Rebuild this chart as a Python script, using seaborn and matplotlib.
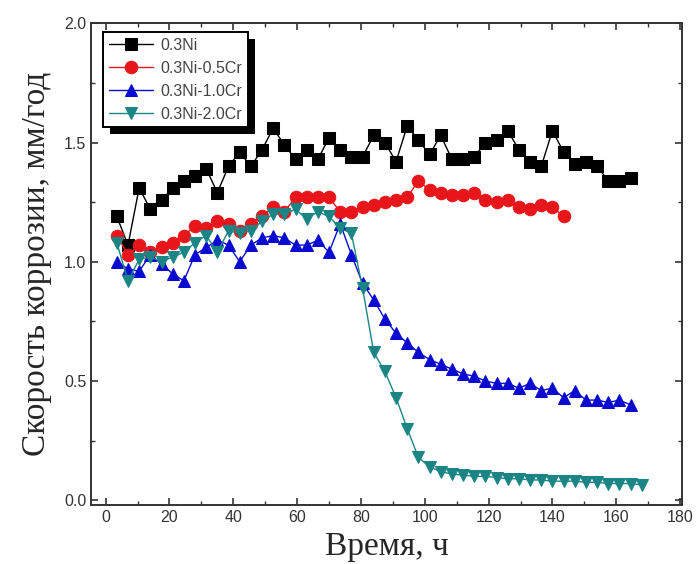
import matplotlib
matplotlib.use('Agg')
import matplotlib.pyplot as plt
from matplotlib.patches import Rectangle
from matplotlib.ticker import MultipleLocator
import numpy as np
import pandas as pd
import seaborn as sns

# time grid, h
time_h = [3.5, 7, 10.5, 14, 17.5, 21, 24.5, 28, 31.5, 35, 38.5, 42, 45.5, 49, 52.5, 56,
          59.5, 63, 66.5, 70, 73.5, 77, 80.5, 84, 87.5, 91, 94.5, 98, 101.5, 105, 108.5,
          112, 115.5, 119, 122.5, 126, 129.5, 133, 136.5, 140, 143.5, 147, 150.5, 154,
          157.5, 161, 164.5, 168]

ni = [1.19, 1.07, 1.31, 1.22, 1.26, 1.31, 1.34, 1.36, 1.39, 1.29, 1.40, 1.46, 1.40, 1.47,
      1.56, 1.49, 1.43, 1.47, 1.43, 1.52, 1.47, 1.44, 1.44, 1.53, 1.50, 1.42, 1.57, 1.51,
      1.45, 1.53, 1.43, 1.43, 1.44, 1.50, 1.51, 1.55, 1.47, 1.42, 1.40, 1.55, 1.46, 1.41,
      1.42, 1.40, 1.34, 1.34, 1.35]

cr05 = [1.11, 1.03, 1.07, 1.04, 1.06, 1.08, 1.11, 1.15, 1.14, 1.17, 1.16, 1.13, 1.16, 1.19,
        1.23, 1.21, 1.27, 1.27, 1.27, 1.27, 1.21, 1.21, 1.23, 1.24, 1.25, 1.26, 1.27, 1.34,
        1.30, 1.29, 1.28, 1.28, 1.29, 1.26, 1.25, 1.26, 1.23, 1.22, 1.24, 1.23, 1.19]

cr10 = [1.00, 0.97, 0.96, 1.03, 0.99, 0.95, 0.92, 1.03, 1.06, 1.09, 1.07, 1.00, 1.07, 1.10,
        1.11, 1.10, 1.07, 1.07, 1.09, 1.04, 1.16, 1.03, 0.91, 0.84, 0.76, 0.70, 0.66, 0.62,
        0.59, 0.57, 0.55, 0.53, 0.52, 0.50, 0.49, 0.49, 0.47, 0.49, 0.46, 0.47, 0.43, 0.46,
        0.42, 0.42, 0.41, 0.42, 0.40]

cr20 = [1.08, 0.92, 1.01, 1.02, 1.00, 1.02, 1.04, 1.08, 1.11, 1.04, 1.13, 1.12, 1.13, 1.17,
        1.20, 1.20, 1.22, 1.18, 1.21, 1.19, 1.14, 1.12, 0.89, 0.62, 0.54, 0.43, 0.30, 0.18,
        0.14, 0.12, 0.11, 0.105, 0.10, 0.10, 0.095, 0.09, 0.09, 0.085, 0.085, 0.08, 0.08,
        0.08, 0.075, 0.075, 0.07, 0.07, 0.07, 0.065]

labels = ['0.3Ni', '0.3Ni-0.5Cr', '0.3Ni-1.0Cr', '0.3Ni-2.0Cr']
series = [ni, cr05, cr10, cr20]
colors = ['black', '#e8161b', '#0a0ad0', '#1b8585']
markers = ['s', 'o', '^', 'v']
msizes = [8, 9, 9, 9]

sns.set_style('ticks')
plt.rcParams['font.family'] = ['Liberation Sans', 'DejaVu Sans']

fig = plt.figure(figsize=(6.97, 5.64), dpi=100)
ax = fig.add_axes([0.131, 0.1046, 0.847, 0.854])

for lab, vals, col, mk, ms in zip(labels, series, colors, markers, msizes):
    df = pd.DataFrame({'t': time_h[:len(vals)], 'v': vals})
    sns.lineplot(data=df, x='t', y='v', ax=ax, color=col, marker=mk, markersize=ms,
                 markeredgecolor=col, linewidth=1.0, label=lab)

ax.set_xlim(-4.5, 180.5)
ax.set_ylim(-0.02, 2.0)
ax.xaxis.set_major_locator(MultipleLocator(20))
ax.xaxis.set_minor_locator(MultipleLocator(10))
ax.yaxis.set_major_locator(MultipleLocator(0.5))
ax.yaxis.set_minor_locator(MultipleLocator(0.25))
ax.yaxis.set_major_formatter(matplotlib.ticker.FormatStrFormatter('%.1f'))
ax.tick_params(which='both', direction='in', top=True, right=True, color='#333333')
ax.tick_params(which='major', length=5, width=1.2, labelsize=11.5, labelcolor='#333333')
ax.tick_params(which='minor', length=3, width=1.0)
for sp in ax.spines.values():
    sp.set_linewidth(1.4)
    sp.set_color('#333333')

ax.set_xlabel('Время, ч', family='Liberation Serif', fontsize=24, labelpad=5)
ax.set_ylabel('Скорость коррозии, мм/год', family='Liberation Serif', fontsize=24, labelpad=9)

leg = ax.legend(loc='upper left', bbox_to_anchor=(0.148, 1 - 32 / 564),
                bbox_transform=fig.transFigure, borderaxespad=0, fancybox=False,
                frameon=True, edgecolor='black', fontsize=11.5, handlelength=2.8,
                labelspacing=0.5, borderpad=0.35, handletextpad=0.45, framealpha=1)
leg.get_frame().set_linewidth(1.4)
leg.set_zorder(10)
for t in leg.get_texts():
    t.set_color('#444444')

# solid black drop shadow behind the legend box
fig.canvas.draw()
bb = leg.get_window_extent().transformed(fig.transFigure.inverted())
dx, dy = 7 / 697, 7 / 564
ax.add_patch(Rectangle((bb.x0 + dx, bb.y0 - dy), bb.width, bb.height,
                       transform=fig.transFigure, facecolor='black',
                       edgecolor='none', zorder=9, clip_on=False))

plt.savefig('out.png', dpi=100)
plt.close()
